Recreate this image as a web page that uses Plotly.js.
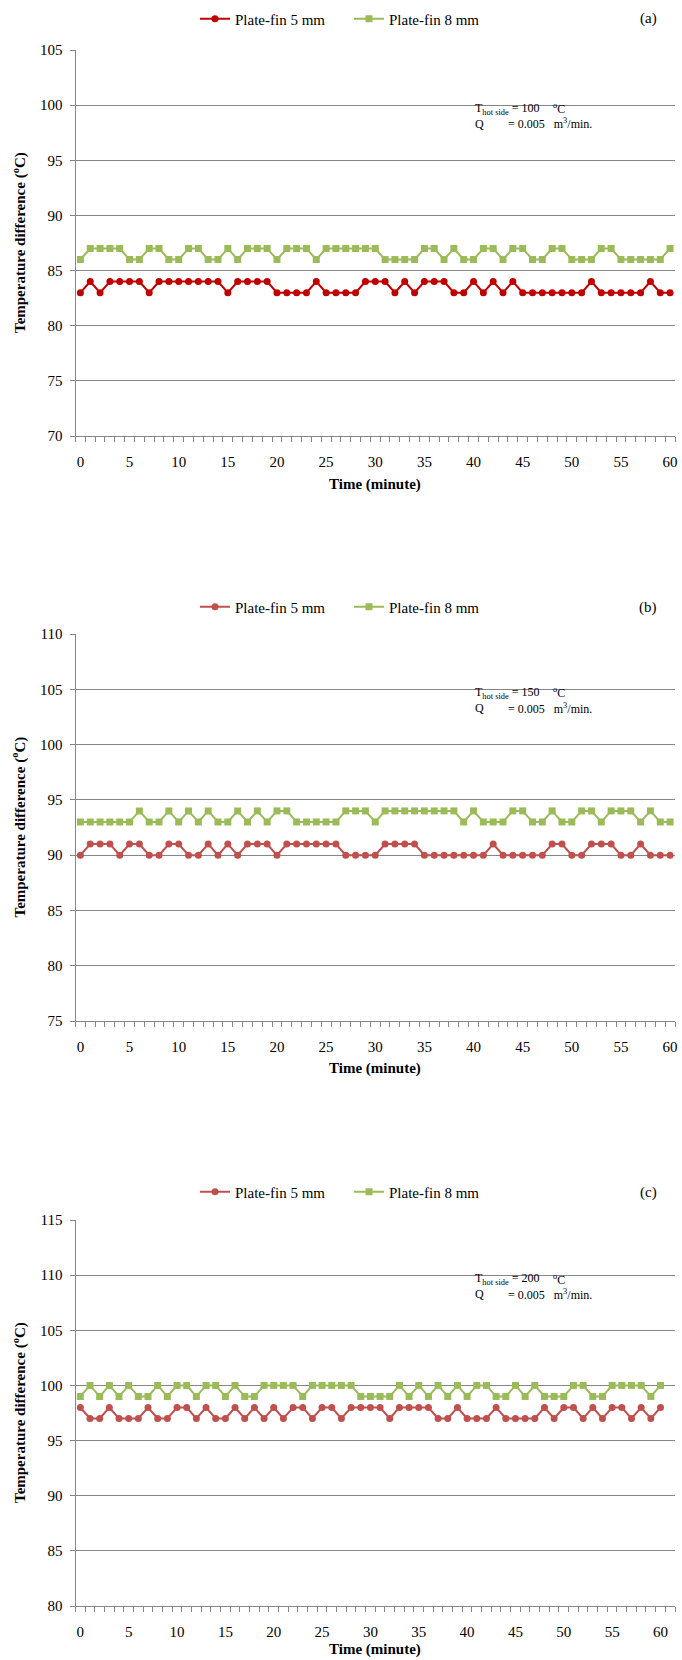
<!DOCTYPE html>
<html><head><meta charset="utf-8">
<script src="https://cdn.plot.ly/plotly-3.0.1.min.js"></script>
<style>html,body{margin:0;padding:0;background:#fff}#chart{width:682px;height:1660px}</style>
</head><body><div id="chart"></div>
<script>
const minutes = [0,1,2,3,4,5,6,7,8,9,10,11,12,13,14,15,16,17,18,19,20,21,22,23,24,25,26,27,28,29,30,31,32,33,34,35,36,37,38,39,40,41,42,43,44,45,46,47,48,49,50,51,52,53,54,55,56,57,58,59,60];
const xTickVals = [0,5,10,15,20,25,30,35,40,45,50,55,60];
const seriesNames = ['Plate-fin 5 mm','Plate-fin 8 mm'];
const panelLabels = ['(a)','(b)','(c)'];
const hotSide = [100,150,200];
const flowQ = '0.005';

const aFin5 = [83,84,83,84,84,84,84,83,84,84,84,84,84,84,84,83,84,84,84,84,83,83,83,83,84,83,83,83,83,84,84,84,83,84,83,84,84,84,83,83,84,83,84,83,84,83,83,83,83,83,83,83,84,83,83,83,83,83,84,83,83];
const aFin8 = [86,87,87,87,87,86,86,87,87,86,86,87,87,86,86,87,86,87,87,87,86,87,87,87,86,87,87,87,87,87,87,86,86,86,86,87,87,86,87,86,86,87,87,86,87,87,86,86,87,87,86,86,86,87,87,86,86,86,86,86,87];
const bFin5 = [90,91,91,91,90,91,91,90,90,91,91,90,90,91,90,91,90,91,91,91,90,91,91,91,91,91,91,90,90,90,90,91,91,91,91,90,90,90,90,90,90,90,91,90,90,90,90,90,91,91,90,90,91,91,91,90,90,91,90,90,90];
const bFin8 = [93,93,93,93,93,93,94,93,93,94,93,94,93,94,93,93,94,93,94,93,94,94,93,93,93,93,93,94,94,94,93,94,94,94,94,94,94,94,94,93,94,93,93,93,94,94,93,93,94,93,93,94,94,93,94,94,94,93,94,93,93];
const cFin5 = [98,97,97,98,97,97,97,98,97,97,98,98,97,98,97,97,98,97,98,97,98,97,98,98,97,98,98,97,98,98,98,98,97,98,98,98,98,97,97,98,97,97,97,98,97,97,97,97,98,97,98,98,97,98,97,98,98,97,98,97,98];
const cFin8 = [99,100,99,100,99,100,99,99,100,99,100,100,99,100,100,99,100,99,99,100,100,100,100,99,100,100,100,100,100,99,99,99,99,100,99,100,99,100,99,100,99,100,100,99,99,100,99,100,99,99,99,100,100,99,99,100,100,100,100,99,100];

const W = 682, H = 1660;
const FONT = "'Liberation Serif', 'Times New Roman', serif";
const GRID = '#868686';
const GREEN = '#9BBB59';
const px = v => v / W;
const py = v => 1 - v / H;

const panels = [
  {f5: aFin5, f8: aFin8, red: '#C00000', yr: [70,105], top: 50, bot: 436, xr: [-0.5,60.5], leg: 19, tOff: 48},
  {f5: bFin5, f8: bFin8, red: '#C0504D', yr: [75,110], top: 634, bot: 1021, xr: [-0.5,60.5], leg: 607, tOff: 47},
  {f5: cFin5, f8: cFin8, red: '#C0504D', yr: [80,115], top: 1220, bot: 1606, xr: [-0.5,61.5], leg: 1192, tOff: 43}
];
const L = 75.5, R = 675;

const data = [], annotations = [];
const layout = {
  width: W, height: H, margin: {l:0,r:0,t:0,b:0},
  paper_bgcolor: '#fff', plot_bgcolor: '#fff', showlegend: true,
  font: {family: FONT, size: 15, color: '#000'},
  annotations: annotations
};

panels.forEach((p, i) => {
  const n = i === 0 ? '' : String(i + 1);
  const legName = 'legend' + n;
  data.push({
    type: 'scatter', mode: 'lines+markers', x: minutes, y: p.f5, name: seriesNames[0],
    xaxis: 'x' + n, yaxis: 'y' + n, legend: legName,
    line: {color: p.red, width: 2}, marker: {symbol: 'circle', size: 7, color: p.red}
  });
  data.push({
    type: 'scatter', mode: 'lines+markers', x: minutes, y: p.f8, name: seriesNames[1],
    xaxis: 'x' + n, yaxis: 'y' + n, legend: legName,
    line: {color: GREEN, width: 2}, marker: {symbol: 'square', size: 7, color: GREEN}
  });
  layout['xaxis' + n] = {
    domain: [px(L), px(R)], anchor: 'y' + n, range: p.xr,
    tickmode: 'array', tickvals: xTickVals, ticks: '', showgrid: false, zeroline: false,
    showline: true, linecolor: GRID, linewidth: 1,
    tickfont: {family: FONT, size: 15, color: '#000'}, ticklabelstandoff: 12,
    minor: {ticks: 'outside', tickmode: 'linear', tick0: -0.5, dtick: 1, ticklen: 5, tickcolor: GRID, tickwidth: 1, showgrid: false},
    fixedrange: true
  };
  layout['yaxis' + n] = {
    domain: [py(p.bot), py(p.top)], anchor: 'x' + n, range: p.yr,
    tickmode: 'linear', tick0: 0, dtick: 5, ticks: 'outside', ticklen: 5, tickcolor: GRID,
    showgrid: true, gridcolor: GRID, gridwidth: 1, zeroline: false,
    showline: true, linecolor: GRID, linewidth: 1,
    tickfont: {family: FONT, size: 15, color: '#000'}, ticklabelstandoff: 4,
    fixedrange: true
  };
  layout[legName] = {
    orientation: 'h', x: px(195), y: py(p.leg), xanchor: 'left', yanchor: 'middle',
    font: {family: FONT, size: 15, color: '#000'}, bgcolor: 'rgba(0,0,0,0)', itemwidth: 30,
    entrywidth: 109, entrywidthmode: 'pixels', tracegroupgap: 0
  };
  annotations.push({xref: 'paper', yref: 'paper', x: px(648), y: py(p.leg), text: panelLabels[i],
    showarrow: false, xanchor: 'center', yanchor: 'middle', font: {family: FONT, size: 15, color: '#000'}});
  annotations.push({xref: 'paper', yref: 'paper', x: px((L + R) / 2), y: py(p.bot + p.tOff), text: '<b>Time (minute)</b>',
    showarrow: false, xanchor: 'center', yanchor: 'middle', font: {family: FONT, size: 15, color: '#000'}});
  annotations.push({xref: 'paper', yref: 'paper', x: px(19), y: py((p.top + p.bot) / 2), text: '<b>Temperature difference (<sup>o</sup>C)</b>',
    textangle: -90, showarrow: false, xanchor: 'center', yanchor: 'middle', font: {family: FONT, size: 15, color: '#000'}});
  annotations.push({xref: 'paper', yref: 'paper', x: px(473), y: py(p.top + 59), text: 'T<sub>hot side</sub> = ' + hotSide[i],
    showarrow: false, xanchor: 'left', yanchor: 'middle', font: {family: FONT, size: 12, color: '#000'}});
  annotations.push({xref: 'paper', yref: 'paper', x: px(551), y: py(p.top + 59), text: '<sup>o</sup>C',
    showarrow: false, xanchor: 'left', yanchor: 'middle', font: {family: FONT, size: 12, color: '#000'}});
  annotations.push({xref: 'paper', yref: 'paper', x: px(473), y: py(p.top + 74), text: 'Q',
    showarrow: false, xanchor: 'left', yanchor: 'middle', font: {family: FONT, size: 12, color: '#000'}});
  annotations.push({xref: 'paper', yref: 'paper', x: px(506), y: py(p.top + 74), text: '= ' + flowQ + '\u00a0\u00a0\u00a0m<sup>3</sup>/min.',
    showarrow: false, xanchor: 'left', yanchor: 'middle', font: {family: FONT, size: 12, color: '#000'}});
});

Plotly.newPlot('chart', data, layout, {displayModeBar: false, staticPlot: true});
</script>
</body></html>
